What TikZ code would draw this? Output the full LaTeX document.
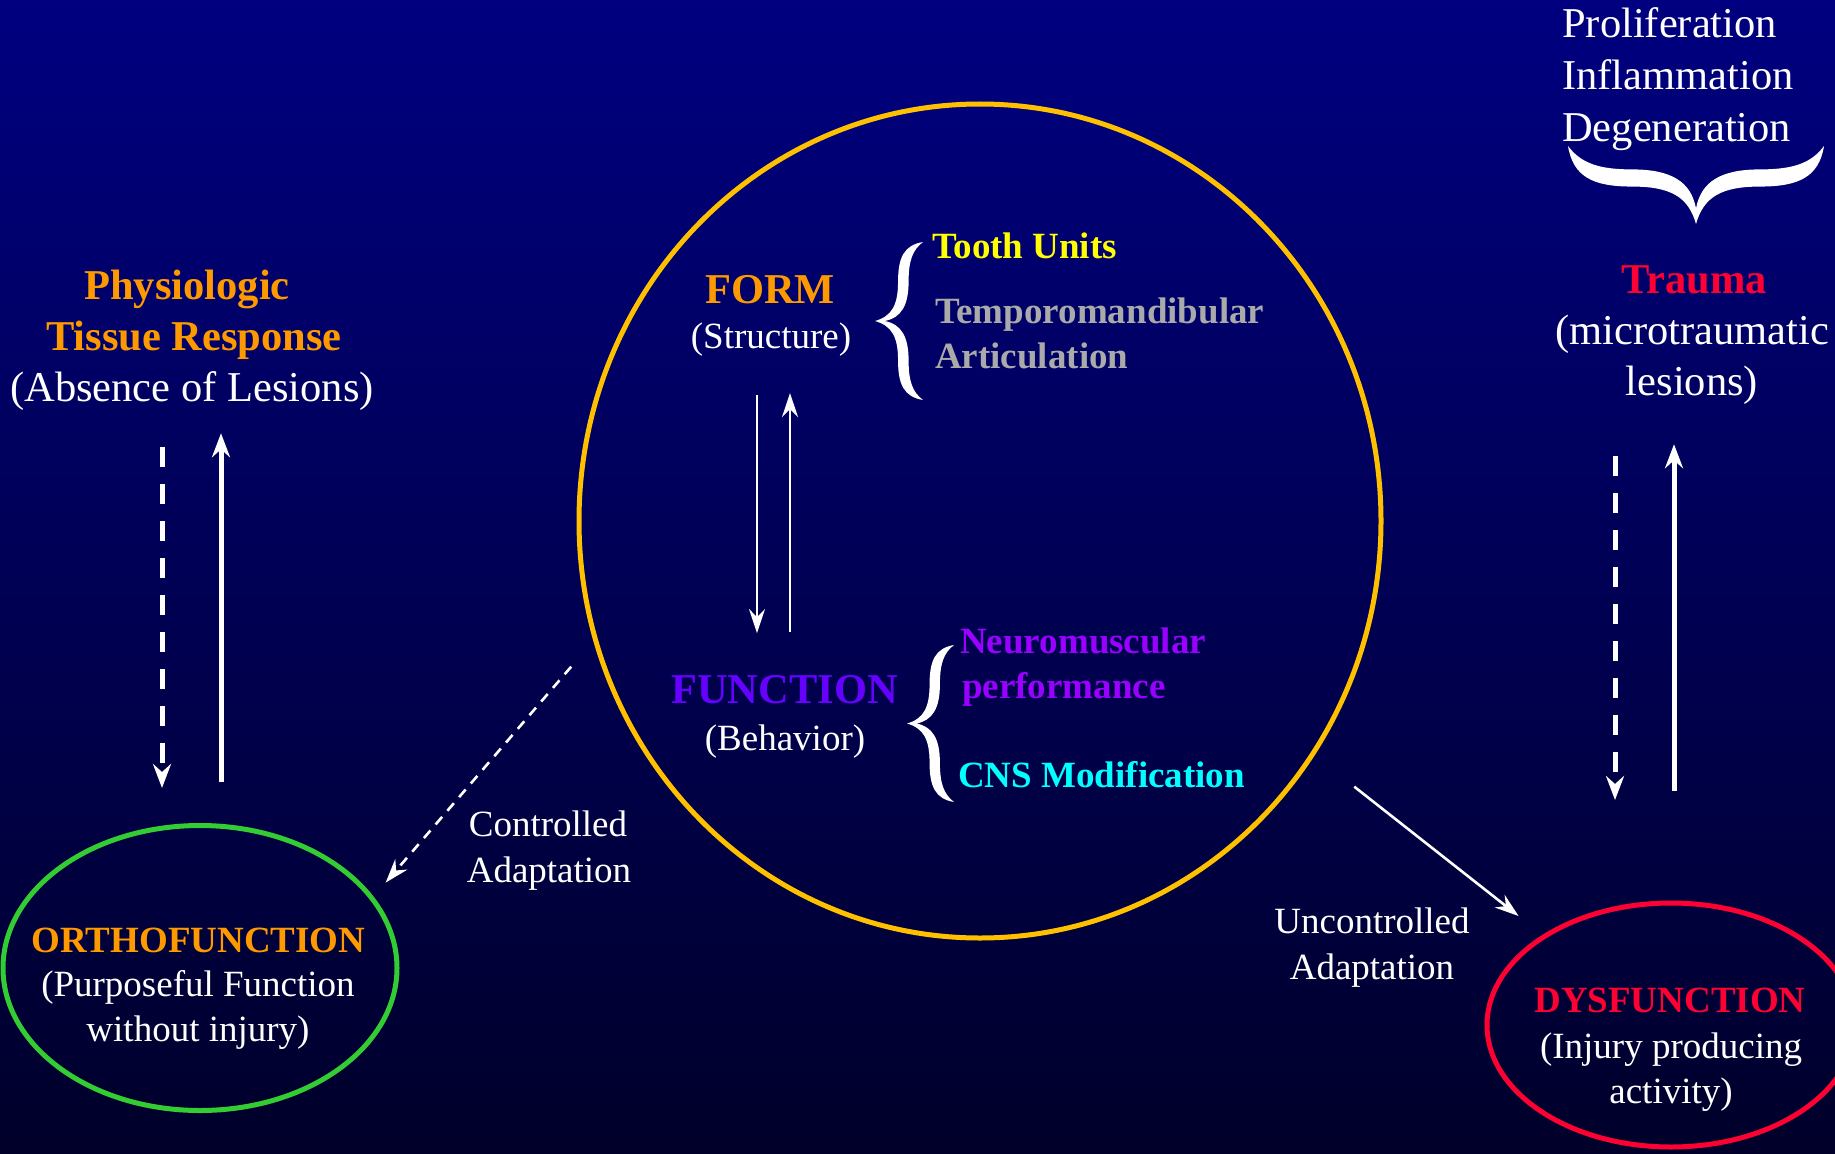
\documentclass[tikz,border=0pt]{standalone}
\usepackage{fontspec}
\setmainfont{Liberation Serif}
\usetikzlibrary{arrows.meta,shapes.geometric}
\definecolor{bgtop}{RGB}{0,0,128}
\definecolor{bgmid}{RGB}{0,0,100}
\definecolor{bgbot}{RGB}{0,0,42}
\definecolor{ringgold}{RGB}{255,192,0}
\definecolor{orangeT}{RGB}{255,153,0}
\definecolor{redT}{RGB}{255,0,51}
\definecolor{yellowT}{RGB}{255,255,0}
\definecolor{grayT}{RGB}{170,170,170}
\definecolor{violetF}{RGB}{102,0,255}
\definecolor{violetN}{RGB}{153,0,255}
\definecolor{cyanT}{RGB}{0,255,255}
\definecolor{greenE}{RGB}{51,204,51}
\tikzset{
  unitbrace/.pic={
    \fill[white] (1,0) .. controls (0.6,0.02) and (0.48,0.1) .. (0.48,0.25)
      .. controls (0.48,0.4) and (0.35,0.47) .. (0,0.5)
      .. controls (0.35,0.53) and (0.48,0.6) .. (0.48,0.75)
      .. controls (0.48,0.9) and (0.6,0.98) .. (1,1)
      .. controls (0.78,0.95) and (0.7,0.88) .. (0.7,0.75)
      .. controls (0.7,0.6) and (0.55,0.52) .. (0.2,0.5)
      .. controls (0.55,0.48) and (0.7,0.4) .. (0.7,0.25)
      .. controls (0.7,0.12) and (0.78,0.05) .. (1,0) -- cycle;
  }
}
\begin{document}
\begin{tikzpicture}[x=1pt,y=-1pt,
  lbl/.style={inner sep=0pt, anchor=base, text=white},
  lblw/.style={lbl, anchor=base west},
  hb/.style={font=\fontsize{42.5}{48}\selectfont\bfseries},
  hr/.style={font=\fontsize{42.5}{48}\selectfont},
  sb/.style={font=\fontsize{37}{44}\selectfont\bfseries},
  sr/.style={font=\fontsize{37}{44}\selectfont},
  oval/.style={ellipse, draw, line width=5pt, inner sep=0pt, outer sep=0pt},
  bigarrow/.style={draw=white, line width=5pt, -{Stealth[length=24pt,width=18pt,inset=8pt]}},
  thinarrow/.style={draw=white, line width=2.6pt, -{Stealth[length=24pt,width=16pt,inset=8pt]}},
  dashbig/.style={dash pattern=on 20pt off 17pt},
  dashthin/.style={dash pattern=on 10pt off 8pt}
]
% background
\shade[top color=bgtop, middle color=bgmid, bottom color=bgbot] (0,0) rectangle (1835,1153);
\useasboundingbox (0,0) rectangle (1835,1153);

% ovals
\node[oval, draw=ringgold, minimum width=802pt, minimum height=834pt] (cycle) at (980,521) {};
\node[oval, draw=greenE, minimum width=394pt, minimum height=285pt] (ortho) at (200,968) {};
\node[oval, draw=redT, minimum width=368pt, minimum height=244pt] (dys) at (1671,1025) {};

% left block
\node[lbl, hb, text=orangeT] (phys1) at (187,299) {Physiologic};
\node[lbl, hb, text=orangeT] (phys2) at (194,350) {Tissue Response};
\node[lbl, hr] (phys3) at (192,401) {(Absence of Lesions)};

% center
\node[lbl, hb, text=orangeT] (form) at (770,303) {FORM};
\node[lbl, sr] (structure) at (771,348) {(Structure)};
\node[lbl, hb, text=violetF] (function) at (784.5,703) {FUNCTION};
\node[lbl, sr] (behavior) at (785,750) {(Behavior)};
\node[lblw, sb, text=yellowT] (tooth) at (932,258) {Tooth Units};
\node[lblw, sb, text=grayT] (temporo) at (935,323) {Temporomandibular};
\node[lblw, sb, text=grayT] (artic) at (935,368) {Articulation};
\node[lblw, sb, text=violetN] (neuro) at (960,653) {Neuromuscular};
\node[lblw, sb, text=violetN] (perf) at (962,698) {performance};
\node[lblw, sb, text=cyanT] (cns) at (958,787) {CNS Modification};

% braces
\begin{scope}[shift={(875,242)}, x={(48pt,0pt)}, y={(0pt,-158pt)}]
  \pic {unitbrace};
\end{scope}
\begin{scope}[shift={(907,645)}, x={(47pt,0pt)}, y={(0pt,-157pt)}]
  \pic {unitbrace};
\end{scope}
\begin{scope}[shift={(1568,224)}, x={(0pt,78pt)}, y={(256pt,0pt)}]
  \pic {unitbrace};
\end{scope}

% adaptation labels
\node[lbl, sr] (ctrl1) at (548,836) {Controlled};
\node[lbl, sr] (ctrl2) at (549,882) {Adaptation};
\node[lbl, sr] (unc1) at (1372,933) {Uncontrolled};
\node[lbl, sr] (unc2) at (1372,979) {Adaptation};

% oval texts
\node[lbl, sb, text=orangeT] (orthot) at (198.5,952) {ORTHOFUNCTION};
\node[lbl, sr] (ortho2) at (198,996) {(Purposeful Function};
\node[lbl, sr] (ortho3) at (198,1041) {without injury)};
\node[lbl, sb, text=redT] (dyst) at (1670,1012) {DYSFUNCTION};
\node[lbl, sr] (dys2) at (1671,1058) {(Injury producing};
\node[lbl, sr] (dys3) at (1671,1103) {activity)};

% right block
\node[lblw, hr] (prolif) at (1562,38) {Proliferation};
\node[lblw, hr] (inflam) at (1562,90) {Inflammation};
\node[lblw, hr] (degen) at (1562,141) {Degeneration};
\node[lbl, hb, text=redT] (trauma) at (1694,293) {Trauma};
\node[lbl, hr] (trauma2) at (1692,344) {(microtraumatic};
\node[lbl, hr] (trauma3) at (1692,395) {lesions)};

% left vertical arrows
\draw[bigarrow, dashbig, shorten <=37pt, shorten >=37.5pt] (phys3.south -| 162,0) -- (ortho.north -| 162,0);
\draw[bigarrow, shorten <=43.5pt, shorten >=23pt] (ortho.north -| 221,0) -- (phys3.south -| 221,0);

% right vertical arrows
\draw[bigarrow, dashbig, shorten <=52pt, shorten >=103pt] (trauma3.south -| 1615,0) -- (dys.north -| 1615,0);
\draw[bigarrow, shorten <=112pt, shorten >=40pt] (dys.north -| 1674,0) -- (trauma3.south -| 1674,0);

% center arrows
\draw[thinarrow, shorten <=39pt, shorten >=41.6pt] (structure.south -| 757,0) -- (function.north -| 757,0);
\draw[thinarrow, shorten <=42.6pt, shorten >=37pt] (function.north -| 790,0) -- (structure.south -| 790,0);

% diagonal arrows
\draw[thinarrow, dashthin, shorten <=37pt, shorten >=21pt] (cycle.197.4) -- (ortho.22.6);
\draw[thinarrow, shorten <=53pt, shorten >=33pt] (cycle.-35) -- (dys.145.4);
\end{tikzpicture}
\end{document}
